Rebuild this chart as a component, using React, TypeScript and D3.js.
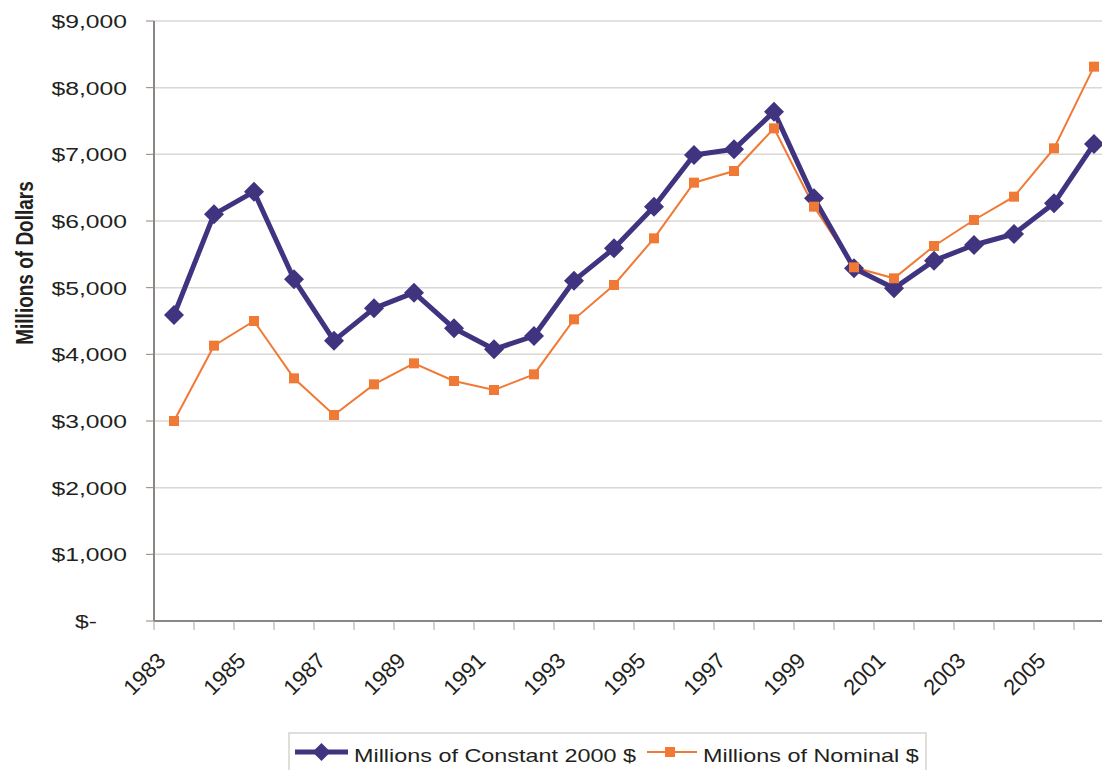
import React from 'react';
import * as d3 from 'd3';

const years = [
  '1983', '1984', '1985', '1986', '1987', '1988', '1989', '1990', '1991', '1992', '1993', '1994',
  '1995', '1996', '1997', '1998', '1999', '2000', '2001', '2002', '2003', '2004', '2005', '2006'
];

const constantDollars = [
  4590, 6100, 6440, 5125, 4205, 4690, 4925, 4390, 4075, 4275, 5105, 5590,
  6215, 6990, 7075, 7640, 6340, 5290, 4990, 5405, 5640, 5805, 6265, 7155
];

const nominalDollars = [
  3000, 4130, 4500, 3640, 3090, 3550, 3865, 3600, 3465, 3700, 4525, 5040,
  5740, 6575, 6750, 7390, 6215, 5305, 5140, 5625, 6015, 6365, 7090, 8315
];

const yTicks = [0, 1000, 2000, 3000, 4000, 5000, 6000, 7000, 8000, 9000];

const seriesNames = ['Millions of Constant 2000 $', 'Millions of Nominal $'];

const purple = '#40337f';
const orange = '#f07a35';
const font = '"Liberation Sans", Arial, sans-serif';
const stretch = 1.3;

const plot = { left: 154, right: 1114, top: 21, bottom: 621 };

const x = d3.scaleBand<string>().domain(years).range([plot.left, plot.right]);
const y = d3.scaleLinear().domain([0, 9000]).range([plot.bottom, plot.top]);
const cx = (yr: string) => (x(yr) as number) + x.bandwidth() / 2;

const fmt = (v: number) => (v === 0 ? '$-' : '$' + d3.format(',')(v));

const line = d3
  .line<number>()
  .x((d, i) => cx(years[i]))
  .y((d) => y(d));

const diamond = 'M0,-10L10,0L0,10L-10,0Z';

export default function App() {
  return (
    <svg
      width={1102}
      height={770}
      style={{ position: 'absolute', left: 0, top: 0, background: '#fff' }}
      fontFamily={font}
    >
      {/* gridlines */}
      {yTicks.slice(1).map((t) => (
        <line key={'g' + t} x1={plot.left} x2={plot.right} y1={y(t)} y2={y(t)} stroke="#dcd7d3" strokeWidth={1.5} />
      ))}

      {/* y axis */}
      <line x1={plot.left} x2={plot.left} y1={plot.top} y2={plot.bottom} stroke="#8c8683" strokeWidth={2} />
      {yTicks.map((t) => (
        <g key={'y' + t}>
          <line x1={plot.left - 8} x2={plot.left} y1={y(t)} y2={y(t)} stroke="#8c8683" strokeWidth={1} />
          <text
            transform={`translate(${t === 0 ? 97 : 127},${y(t) + 7}) scale(${stretch},1)`}
            textAnchor="end"
            fontSize={19}
            fill="#231f20"
          >
            {fmt(t)}
          </text>
        </g>
      ))}

      {/* x axis */}
      <line x1={plot.left} x2={plot.right} y1={plot.bottom} y2={plot.bottom} stroke="#8c8683" strokeWidth={2} />
      {years.map((yr) => (
        <line
          key={'xt' + yr}
          x1={x(yr) as number}
          x2={x(yr) as number}
          y1={plot.bottom}
          y2={plot.bottom + 9}
          stroke="#a9a4a1"
          strokeWidth={1}
        />
      ))}
      {years.filter((yr, i) => i % 2 === 0).map((yr) => (
        <text
          key={'xl' + yr}
          transform={`translate(${cx(yr) - 7},${662}) rotate(-45)`}
          textAnchor="end"
          fontSize={22}
          fill="#231f20"
        >
          {yr}
        </text>
      ))}

      {/* y title */}
      <text
        transform={`translate(33,263) scale(${stretch},1) rotate(-90)`}
        textAnchor="middle"
        fontSize={19}
        fontWeight="bold"
        fill="#231f20"
      >
        Millions of Dollars
      </text>

      {/* nominal series */}
      <path d={line(nominalDollars) || ''} fill="none" stroke={orange} strokeWidth={2} />
      {/* constant series */}
      <path d={line(constantDollars) || ''} fill="none" stroke={purple} strokeWidth={5} strokeLinejoin="round" />
      {constantDollars.map((v, i) => (
        <path key={'d' + i} d={diamond} transform={`translate(${cx(years[i])},${y(v)})`} fill={purple} />
      ))}
      {nominalDollars.map((v, i) => (
        <rect key={'s' + i} x={cx(years[i]) - 5} y={y(v) - 5} width={10} height={10} fill={orange} />
      ))}

      {/* legend */}
      <rect x={289} y={733} width={637} height={60} fill="#fff" stroke="#d6d2cf" strokeWidth={1.5} />
      <line x1={295} x2={348} y1={752} y2={752} stroke={purple} strokeWidth={5} />
      <path d="M0,-9L9,0L0,9L-9,0Z" transform="translate(321.5,752)" fill={purple} />
      <text transform={`translate(354,762) scale(${stretch},1)`} fontSize={18} fill="#231f20">
        {seriesNames[0]}
      </text>
      <line x1={647} x2={697} y1={752} y2={752} stroke={orange} strokeWidth={2} />
      <rect x={665} y={747} width={10} height={10} fill={orange} />
      <text transform={`translate(703,762) scale(${stretch},1)`} fontSize={18} fill="#231f20">
        {seriesNames[1]}
      </text>
    </svg>
  );
}
